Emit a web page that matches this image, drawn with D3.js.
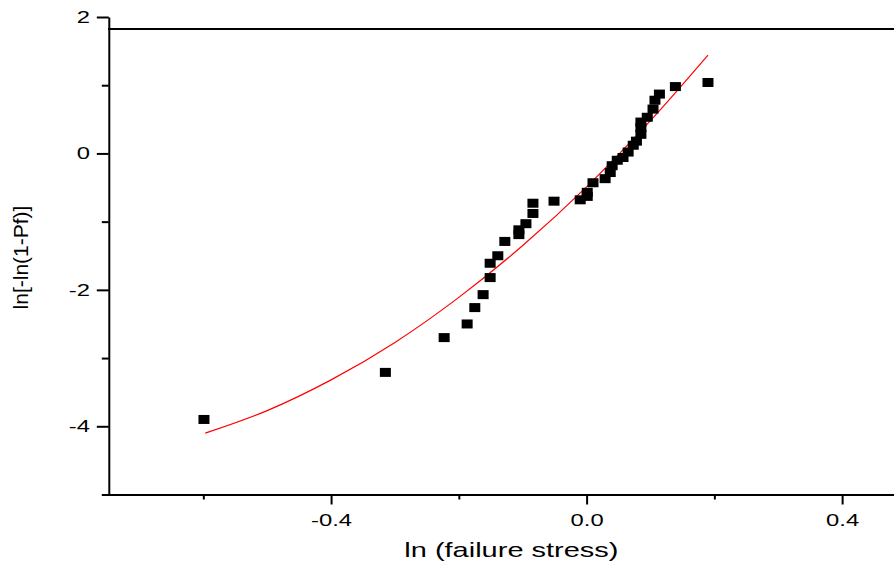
<!DOCTYPE html>
<html>
<head>
<meta charset="utf-8">
<script src="https://cdn.jsdelivr.net/npm/d3@7"></script>
<style>
  body { margin: 0; background: #fff; }
  svg { display: block; font-family: "Liberation Sans", Arial, sans-serif; }
</style>
</head>
<body>
<svg id="chart" width="894" height="566"></svg>
<script>
// measured points: ln(failure stress) vs ln[-ln(1-Pf)]
const lnStress = [-0.599, -0.315, -0.223, -0.187, -0.175, -0.162, -0.151, -0.151, -0.139,
  -0.128, -0.106, -0.106, -0.095, -0.084, -0.084, -0.051, -0.010, 0.001, 0.001, 0.010,
  0.029, 0.037, 0.040, 0.048, 0.057, 0.065, 0.073, 0.078, 0.085, 0.085, 0.085, 0.095,
  0.104, 0.107, 0.114, 0.139, 0.190];
const lnLnPf = [-3.90, -3.21, -2.70, -2.50, -2.26, -2.07, -1.82, -1.61, -1.50,
  -1.29, -1.19, -1.12, -1.03, -0.88, -0.73, -0.70, -0.68, -0.63, -0.57, -0.43,
  -0.37, -0.28, -0.18, -0.10, -0.06, 0.02, 0.12, 0.18, 0.28, 0.38, 0.46, 0.53,
  0.65, 0.78, 0.87, 0.98, 1.04];

// red fitted curve, read at a few x positions
const fitX = [-0.597, -0.5, -0.4, -0.3, -0.2, -0.1, 0.0, 0.1, 0.19];
const fitY = [-4.10, -3.77, -3.32, -2.77, -2.11, -1.35, -0.49, 0.48, 1.44];

const xMajor = [-0.4, 0.0, 0.4];
const xMinor = [-0.6, -0.2, 0.2];
const yMajor = [-4, -2, 0, 2];
const yMinor = [-5, -3, -1, 1];

const svg = d3.select('#chart');
const stretch = 1.4; // text in the picture is wide

const x = d3.scaleLinear().domain([-0.75, 0.5]).range([107.5, 906]);
const y = d3.scaleLinear().domain([-5, 2]).range([494.5, 17]);

// top frame line
svg.append('line')
  .attr('x1', 108).attr('x2', 894)
  .attr('y1', 29).attr('y2', 29)
  .attr('stroke', '#000').attr('stroke-width', 2);

// x axis
const gx = svg.append('g').attr('transform', 'translate(0,494.5)')
  .call(d3.axisBottom(x).tickValues(xMajor).tickSize(10).tickSizeOuter(0).tickFormat(d => d.toFixed(1)));
svg.append('g').attr('transform', 'translate(0,494.5)')
  .call(d3.axisBottom(x).tickValues(xMinor).tickSize(5).tickFormat(''))
  .call(g => g.select('.domain').remove());

// y axis
const gy = svg.append('g').attr('transform', 'translate(108.8,0)')
  .call(d3.axisLeft(y).tickValues(yMajor).tickSize(12).tickSizeOuter(0).tickFormat(d => String(d)));
svg.append('g').attr('transform', 'translate(108.8,0)')
  .call(d3.axisLeft(y).tickValues(yMinor).tickSize(7).tickFormat(''))
  .call(g => g.select('.domain').remove());

svg.selectAll('.domain, .tick line').attr('stroke', '#000').attr('stroke-width', 2);

gy.selectAll('.tick text')
  .attr('font-size', 17).attr('fill', '#000')
  .attr('x', -18.8 / stretch)
  .attr('transform', `scale(${stretch},1)`);

gx.selectAll('.tick text')
  .attr('font-size', 17).attr('fill', '#000')
  .attr('y', 31.5).attr('dy', 0)
  .attr('transform', `scale(${stretch},1)`);

// fitted curve
const line = d3.line()
  .x((d, i) => x(fitX[i]))
  .y(d => y(d))
  .curve(d3.curveCatmullRom);
svg.append('path')
  .datum(fitY)
  .attr('d', line)
  .attr('fill', 'none')
  .attr('stroke', '#ff0000')
  .attr('stroke-width', 1.2);

// data squares
svg.append('g').selectAll('rect')
  .data(lnStress)
  .join('rect')
  .attr('x', d => x(d) - 5.5)
  .attr('y', (d, i) => y(lnLnPf[i]) - 4.5)
  .attr('width', 11)
  .attr('height', 9)
  .attr('fill', '#000');

// axis titles
svg.append('text')
  .attr('transform', `translate(511.4,557) scale(1.45,1)`)
  .attr('text-anchor', 'middle')
  .attr('font-size', 20)
  .text('ln (failure stress)');

svg.append('text')
  .attr('transform', 'translate(28,257.5) rotate(-90)')
  .attr('text-anchor', 'middle')
  .attr('font-size', 21)
  .text('ln[-ln(1-Pf)]');
</script>
</body>
</html>
